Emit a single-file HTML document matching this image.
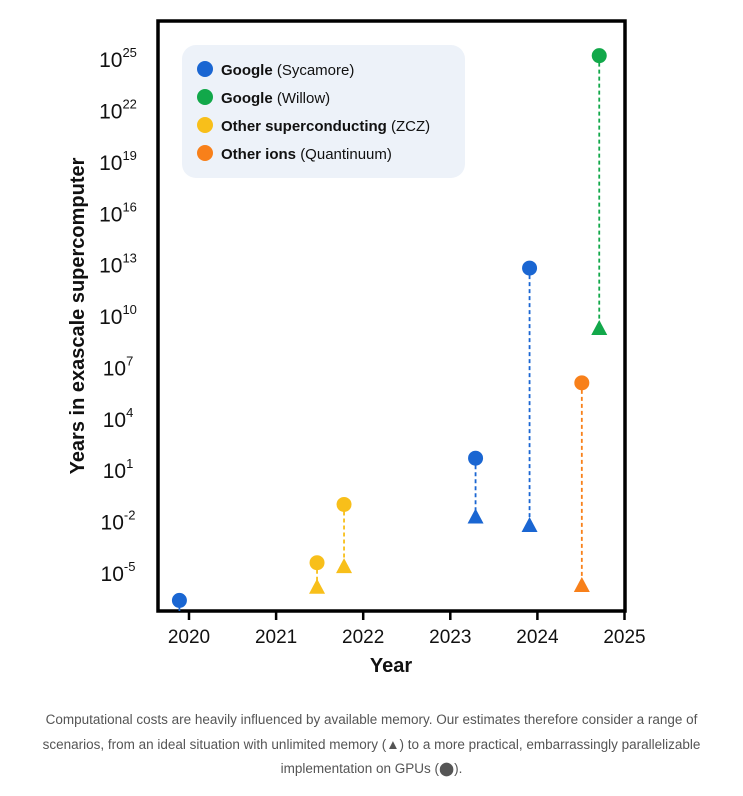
<!DOCTYPE html>
<html><head><meta charset="utf-8"><style>
body{margin:0;background:#fff;width:743px;height:796px;overflow:hidden;font-family:"Liberation Sans",sans-serif}
#cap{position:absolute;left:0;top:708px;width:743px;text-align:center;color:#555;font-size:13.5px;line-height:24.5px}
</style></head><body>
<svg id="chart" width="743" height="700" style="position:absolute;left:0;top:0" font-family="Liberation Sans, sans-serif"></svg>
<div id="cap">Computational costs are heavily influenced by available memory. Our estimates therefore consider a range of<br>scenarios, from an ideal situation with unlimited memory (▲) to a more practical, embarrassingly parallelizable<br>implementation on GPUs (⬤).</div>
<script>
const yTicks=[25,22,19,16,13,10,7,4,1,-2,-5];
const xTicks=[2020,2021,2022,2023,2024,2025];
const seriesNames=["Google","Google","Other superconducting","Other ions"];
const seriesSub=["(Sycamore)","(Willow)","(ZCZ)","(Quantinuum)"];
const seriesColors=["#1a66d2","#12a84a","#f8bf1a","#f8801a"];
const pointSeries=[0,2,2,0,0,3,1];
const pointYears=[2019.89,2021.47,2021.78,2023.29,2023.91,2024.51,2024.71];
const circleExp=[-6.6,-4.4,-1.0,1.7,12.8,6.1,25.2];
const triExp=[null,-5.8,-4.6,-1.7,-2.2,-5.7,9.3];
const NS="http://www.w3.org/2000/svg";
const svg=document.getElementById('chart');
const X=v=>189+(v-2020)*87.1;
const Y=e=>573-(e+5)*17.13;
function mk(t,a,p){const el=document.createElementNS(NS,t);for(const k in a)el.setAttribute(k,a[k]);(p||svg).appendChild(el);return el;}
let fr=mk('rect',{x:158,y:21,width:467,height:590,fill:'none',stroke:'#000','stroke-width':3.5});


yTicks.forEach(e=>{const t=mk('text',{x:118,y:Y(e)+8,'font-size':21,'text-anchor':'middle',fill:'#111'});


t.textContent='10';const s=mk('tspan',{dy:-10,'font-size':13},t);s.textContent=e;});
xTicks.forEach(v=>{const l=mk('line',{x1:X(v),x2:X(v),y1:611,y2:620,stroke:'#000','stroke-width':2.5});


const t=mk('text',{x:X(v),y:643,'font-size':19,'text-anchor':'middle',fill:'#111'});


t.textContent=v;});
let yt=mk('text',{x:0,y:0,transform:'translate(84,316) rotate(-90)','font-size':20,'font-weight':'bold','text-anchor':'middle',fill:'#111'});


yt.textContent='Years in exascale supercomputer';
let xt=mk('text',{x:391,y:672,'font-size':20,'font-weight':'bold','text-anchor':'middle',fill:'#111'});


xt.textContent='Year';
let lb=mk('rect',{x:182,y:45,width:283,height:133,rx:14,fill:'#edf2f9'});


seriesNames.forEach((n,i)=>{const g=mk('g',{});


mk('circle',{cx:205,cy:69+i*28,r:8,fill:seriesColors[i]},g);
const t=mk('text',{x:221,y:75+i*28,'font-size':15,fill:'#111'},g);
const b=mk('tspan',{'font-weight':'bold'},t);b.textContent=n+' ';
const s=mk('tspan',{},t);s.textContent=seriesSub[i];});
pointYears.forEach((yr,i)=>{const c=seriesColors[pointSeries[i]],x=X(yr);
const g=mk('g',{});


if(triExp[i]!==null){mk('line',{x1:x,x2:x,y1:Y(circleExp[i]),y2:Y(triExp[i]),stroke:c,'stroke-width':1.8,'stroke-dasharray':'4,3'},g);
const ty=Y(triExp[i]);mk('polygon',{points:`${x-8},${ty+7} ${x+8},${ty+7} ${x},${ty-8}`,fill:c},g);}
else{mk('line',{x1:x,x2:x,y1:Y(circleExp[i]),y2:611,stroke:c,'stroke-width':1.8},g);}
mk('circle',{cx:x,cy:Y(circleExp[i]),r:7.5,fill:c},g);});
</script>
</body></html>
